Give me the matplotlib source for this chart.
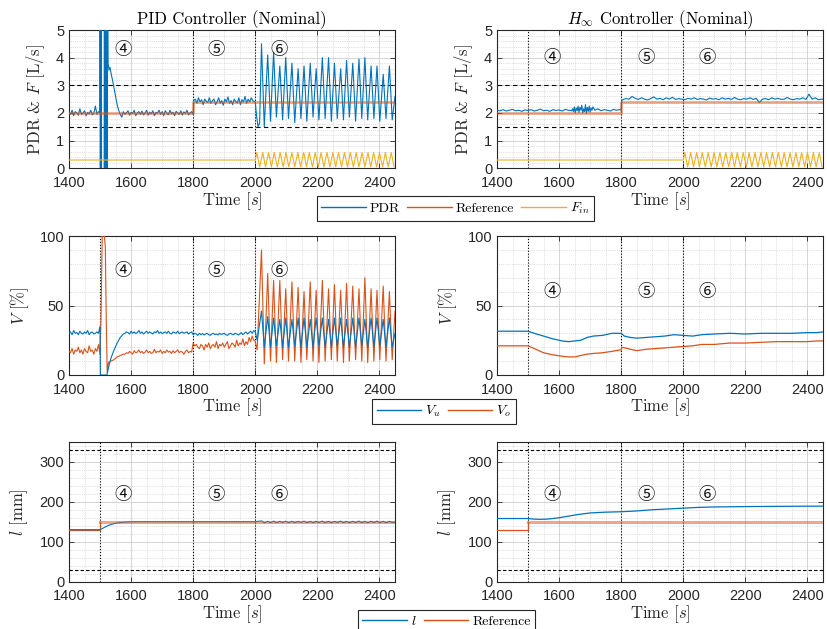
import numpy as np
import matplotlib
matplotlib.use('Agg')
import matplotlib.pyplot as plt
from matplotlib.lines import Line2D
from matplotlib.ticker import MultipleLocator
from matplotlib.font_manager import FontProperties

plt.rcParams['font.family'] = ['Liberation Sans', 'DejaVu Sans']
plt.rcParams['mathtext.fontset'] = 'cm'
plt.rcParams['axes.unicode_minus'] = False

SERIF = ['cmr10', 'DejaVu Serif']
CIRC = ['Noto Sans CJK JP', 'DejaVu Sans']
BLUE = '#0072BD'
ORANGE = '#D95319'
YELLOW = '#EDB120'
DARK = '#262626'

# ---------------- data ----------------
phase_lines = [1500, 1800, 2000]
phase_labels = ['④', '⑤', '⑥']
phase_label_t_pid = [1575, 1875, 2077]
phase_label_t_hinf = [1579, 1879, 2077]

# common oscillation instants for PID (s)
osc_t_pk = [2020, 2040, 2059, 2079, 2098, 2118, 2138, 2157, 2177, 2196, 2216,
            2236, 2255, 2275, 2294, 2314, 2334, 2353, 2373, 2392, 2412, 2432]
osc_t_tr = [2029, 2049, 2068, 2088, 2107, 2127, 2147, 2166, 2186, 2205, 2225,
            2245, 2264, 2284, 2303, 2323, 2343, 2362, 2382, 2401, 2421, 2441]

# PID PDR
pid_pdr_a = [2.0, 1.95, 2.1, 1.9, 2.05, 2.0, 1.92, 2.15, 1.95, 2.0, 2.08, 1.9, 2.02,
             1.97, 2.1, 1.93, 2.0, 2.25, 1.95, 2.05, 2.0]
pid_pdr_spike_t = [1500, 1501, 1502, 1503, 1504, 1505, 1513, 1514, 1515, 1516, 1517,
                   1518, 1519, 1520, 1521, 1522, 1523, 1524]
pid_pdr_spike_v = [8, -3, 8, -3, 8, -3, -3, 8, -3, 8, -3, 8, -3, 8, -3, 8, -3, 8]
pid_pdr_decay_t = [1526, 1529, 1532, 1536, 1540, 1545, 1550, 1555, 1560, 1565, 1570]
pid_pdr_decay_v = [3.8, 3.55, 3.65, 3.4, 3.2, 2.9, 2.6, 2.3, 2.1, 1.95, 1.85]
pid_pdr_b = [2.05, 1.95, 2.0, 2.08, 1.92, 2.02, 1.98, 2.1, 1.9, 2.0,
             2.05, 1.95, 2.07, 1.93, 2.0, 2.1, 1.92, 2.03, 1.97, 2.08,
             1.9, 2.02, 2.0, 2.1, 1.95, 2.05, 1.9, 2.08, 2.0, 1.93,
             2.1, 1.97, 2.03, 1.9, 2.06, 2.0, 1.95, 2.08, 1.92, 2.04,
             1.98, 2.1, 1.93, 2.0, 2.05, 1.95]
pid_pdr_c = [2.45, 2.5, 2.35, 2.55, 2.4, 2.48, 2.3, 2.5, 2.42, 2.38,
             2.55, 2.35, 2.45, 2.5, 2.3, 2.4, 2.55, 2.35, 2.45, 2.28,
             2.5, 2.4, 2.58, 2.35, 2.45, 2.3, 2.5, 2.42, 2.36, 2.55,
             2.3, 2.48, 2.4, 2.6, 2.35, 2.5, 2.4, 2.55, 2.45, 2.4]
pid_pdr_start_t = [2000, 2004, 2009, 2014]
pid_pdr_start_v = [2.4, 1.9, 1.5, 1.65]
pid_pdr_pk = [4.5, 4.1, 4.2, 3.7, 4.0, 3.8, 3.6, 3.7, 3.8, 3.6, 4.0, 4.0, 3.8, 3.6,
              3.9, 3.8, 3.95, 4.0, 3.7, 3.7, 3.4, 3.7]
pid_pdr_tr = [1.5, 1.7, 1.85, 1.75, 1.8, 1.65, 1.8, 1.7, 1.85, 1.75, 1.8, 1.7, 1.8,
              1.75, 1.85, 1.7, 1.8, 1.75, 1.8, 1.7, 1.8, 1.75]
pid_pdr_end = 2.6

# Reference flow
ref_flow_t = [1400, 1800, 1800, 2450]
ref_flow_v = [2.0, 2.0, 2.4, 2.4]

# Inflow F_in
fin_const_t = [1400, 2000]
fin_const_v = [0.3, 0.3]
fin_t_pk = [2005, 2024, 2043, 2061, 2080, 2099, 2118, 2137, 2156, 2174, 2193, 2212,
            2231, 2250, 2268, 2287, 2306, 2325, 2344, 2363, 2381, 2400, 2419, 2438]
fin_t_tr = [2014, 2033, 2052, 2071, 2090, 2108, 2127, 2146, 2165, 2184, 2203, 2221,
            2240, 2259, 2278, 2297, 2316, 2334, 2353, 2372, 2391, 2410, 2428, 2447]
fin_pk = [0.57] * 24
fin_tr = [0.05] * 24

# H-infinity PDR
hinf_pdr_a = [2.1, 2.08, 2.12, 2.07, 2.1, 2.13, 2.08, 2.1, 2.06, 2.11,
              2.09, 2.12, 2.07, 2.1, 2.14, 2.08, 2.1, 2.06, 2.12, 2.09,
              2.11, 2.07, 2.13, 2.1, 2.08]
hinf_pdr_b = [2.15, 2.05, 2.22, 2.0, 2.18, 2.08, 2.25, 2.02, 2.2, 2.1, 2.28, 2.0,
              2.15, 2.05, 2.3, 1.98, 2.2, 2.06, 2.25, 2.03, 2.18, 2.1, 2.22]
hinf_pdr_c = [2.1, 2.15, 2.08, 2.12, 2.1, 2.07, 2.13, 2.1, 2.12]
hinf_pdr_step_t = [1800, 1802]
hinf_pdr_step_v = [2.1, 2.45]
hinf_pdr_d = [2.48, 2.52, 2.5, 2.6, 2.53, 2.49, 2.55, 2.5, 2.47, 2.52,
              2.58, 2.5, 2.53, 2.48, 2.55, 2.5, 2.57, 2.49, 2.52, 2.5,
              2.48, 2.53, 2.5, 2.55, 2.49, 2.52, 2.5, 2.47, 2.54, 2.5,
              2.52, 2.48, 2.55, 2.5, 2.53, 2.49, 2.56, 2.5, 2.48, 2.52,
              2.5, 2.55, 2.49, 2.53, 2.38, 2.5, 2.52, 2.48, 2.55, 2.5,
              2.53, 2.49, 2.5, 2.56, 2.5, 2.48, 2.52, 2.5, 2.55, 2.49,
              2.68, 2.5, 2.55, 2.48, 2.5]
hinf_pdr_end = 2.5

# PID valves
pid_vu_a = [30, 31, 29, 32, 30, 30.5, 29, 31.5, 30, 29.5, 31, 30, 32, 29, 30.5, 31,
            29.5, 30, 31, 30]
pid_vu_drop_t = [1500, 1501, 1522, 1528, 1535, 1545, 1555, 1565, 1575]
pid_vu_drop_v = [35, 0, 0, 6, 12, 18, 23, 27, 29.5]
pid_vu_b = [30, 31, 30.5, 29.5, 31.5, 30, 31, 29.8, 30.5, 32,
            30, 31, 29.5, 30.5, 31.5, 30, 31, 30.2, 29.5, 31,
            30.5, 32, 30, 31, 29.8, 30.5, 31, 30, 31.5, 30,
            29.5, 31, 30.5, 30, 31.5, 29.8, 30.5, 31, 30, 30.5,
            31, 29.5, 30.5, 31]
pid_vu_c = [29, 30, 29.5, 28.5, 30, 29, 29.8, 28.8, 29.5, 30,
            29, 28.5, 29.5, 30, 29, 29.5, 28.8, 30, 29.2, 29.5,
            30, 29, 28.5, 29.5, 30, 29.3, 29, 30, 29.5, 28.8,
            29.5, 30.5, 29, 30, 31, 29.5, 30.5, 31.5, 30, 32]
pid_vu_start_t = [2000, 2006]
pid_vu_start_v = [31, 25]
pid_vu_pk = [46, 42, 41, 40, 41, 40, 41, 41, 40, 41, 41, 40, 41, 41, 40, 41, 41, 40,
             41, 41, 40, 41]
pid_vu_tr = [20, 20, 21, 20, 20, 21, 20, 20, 20, 21, 20, 20, 21, 20, 20, 20, 21, 20,
             20, 21, 20, 20]
pid_vu_end = 30

pid_vo_a = [17, 16, 19, 15, 18, 17, 20, 16, 18, 15, 19, 17, 16, 21, 17, 18, 15, 19,
            17, 22]
pid_vo_sat_t = [1500, 1503, 1507, 1514, 1517, 1520, 1523, 1527, 1535, 1545, 1555,
                1565, 1575]
pid_vo_sat_v = [15, 40, 100, 100, 92, 40, 2, 9, 10, 11, 13, 14, 15]
pid_vo_b = [15, 16, 15.5, 17, 16, 15, 17.5, 16, 16.5, 18,
            16, 17, 15.5, 16.5, 18, 16, 17, 15.5, 16, 18.5,
            16, 17, 16.5, 18, 15.5, 17, 16, 18, 16.5, 17,
            15.5, 17.5, 16, 17, 18, 16, 17, 16.5, 15, 17,
            18, 16, 17, 16.5]
pid_vo_c = [23, 21, 22, 20, 19, 22, 21, 18, 22, 20,
            23, 19, 21, 22, 20, 24, 19, 22, 21, 23,
            20, 22, 24, 19, 21, 23, 22, 20, 25, 21,
            23, 22, 26, 21, 24, 22, 27, 24, 28, 25]
pid_vo_start_t = [2000, 2006]
pid_vo_start_v = [24, 18]
pid_vo_pk = [90, 73, 68, 68, 62, 67, 63, 60, 67, 61, 68, 62, 65, 61, 66, 64, 62, 70,
             62, 61, 64, 60]
pid_vo_tr = [8, 10, 9, 11, 10, 10, 9, 11, 10, 9, 10, 11, 10, 9, 10, 11, 10, 9, 10,
             11, 10, 11]
pid_vo_end = 46

# H-infinity valves
hinf_vu_t = [1400, 1500, 1520, 1550, 1580, 1610, 1630, 1650, 1670, 1690, 1710, 1740,
             1770, 1795, 1800, 1810, 1830, 1850, 1880, 1910, 1940, 1970, 2000, 2030,
             2060, 2100, 2150, 2200, 2250, 2300, 2350, 2400, 2430, 2450]
hinf_vu = [31.5, 31.5, 30, 28, 26, 24.5, 24, 24.5, 25, 27, 28, 28.5, 30, 30, 30, 28,
           27, 26.5, 27, 27.5, 28, 29, 28.5, 28, 29, 29.5, 30, 29.5, 30, 30, 30, 30.5,
           30.5, 31]
hinf_vo_t = [1400, 1500, 1520, 1550, 1580, 1610, 1630, 1650, 1670, 1690, 1710, 1740,
             1770, 1795, 1800, 1802, 1830, 1850, 1880, 1910, 1940, 1970, 2000, 2030,
             2060, 2100, 2150, 2200, 2250, 2300, 2350, 2400, 2430, 2450]
hinf_vo = [21, 21, 19, 16, 14.5, 13.5, 13, 13, 14, 15, 15.5, 16, 17, 18, 18, 20,
           18.5, 17.5, 18.5, 19, 19.5, 20, 20.5, 21, 22, 22, 23, 23, 23.5, 24, 24, 24,
           24.5, 24.5]

# Levels
ref_lvl_pre_t = [1400, 1500, 1500]
ref_lvl_pre_v = [130, 130, 150]
ref_lvl_post_t = [1500, 2450]
ref_lvl_post_v = [150, 150]

pid_l_t = [1400, 1500, 1505, 1515, 1525, 1535, 1545, 1555, 1570, 1590, 1620, 1640, 2000]
pid_l = [130, 130, 132, 136, 140, 143, 145, 147, 148.5, 149.5, 150, 150, 150]
pid_l_pk = [152, 151, 151.5, 151, 151.5, 151, 151, 151.5, 151, 151, 151.5, 151, 151,
            151.5, 151, 151, 151.5, 151, 151, 151.5, 151, 151]
pid_l_tr = [147, 147.5, 147.5, 148, 147.5, 147.5, 148, 147.5, 147.5, 148, 147.5, 147.5,
            148, 147.5, 147.5, 148, 147.5, 147.5, 148, 147.5, 147.5, 148]

hinf_l_t = [1400, 1450, 1500, 1520, 1540, 1560, 1580, 1600, 1630, 1660, 1700, 1750,
            1800, 1850, 1900, 1950, 2000, 2050, 2100, 2150, 2200, 2300, 2400, 2450]
hinf_l = [158, 158, 158, 156.5, 156, 156.5, 158, 160, 164, 168, 172, 174, 175, 177,
          180, 182, 184, 186, 187, 187.5, 188, 188.5, 189, 189]

flow_limits = [1.5, 3.0]
level_limits = [30, 330]


# ---------------- helpers ----------------
def zig(t_pk, v_pk, t_tr, v_tr):
    t, v = [], []
    for a, b, c, d in zip(t_pk, v_pk, t_tr, v_tr):
        t += [a, c]
        v += [b, d]
    return t, v


def cat(*parts):
    out = []
    for p in parts:
        out += list(p)
    return np.array(out, dtype=float)


zt, zv = zig(osc_t_pk, pid_pdr_pk, osc_t_tr, pid_pdr_tr)
pid_pdr_t_all = cat(np.arange(1400, 1501, 5), pid_pdr_spike_t,
                    pid_pdr_decay_t, np.arange(1575, 1801, 5), np.arange(1802, 2000, 5),
                    pid_pdr_start_t, zt, [2450])
pid_pdr_v_all = cat(pid_pdr_a, pid_pdr_spike_v, pid_pdr_decay_v, pid_pdr_b, pid_pdr_c,
                    pid_pdr_start_v, zv, [pid_pdr_end])

ft, fv = zig(fin_t_pk, fin_pk, fin_t_tr, fin_tr)
fin_t_all = cat(fin_const_t, ft)
fin_v_all = cat(fin_const_v, fv)

hinf_pdr_t_all = cat(np.arange(1400, 1641, 10), np.arange(1643, 1711, 3),
                     np.arange(1715, 1800, 10), hinf_pdr_step_t,
                     np.arange(1805, 2451, 10), [2450])
hinf_pdr_v_all = cat(hinf_pdr_a, hinf_pdr_b, hinf_pdr_c, hinf_pdr_step_v, hinf_pdr_d,
                     [hinf_pdr_end])

zt, zv = zig(osc_t_pk, pid_vu_pk, osc_t_tr, pid_vu_tr)
pid_vu_t_all = cat(np.arange(1400, 1500, 5), pid_vu_drop_t, np.arange(1580, 1800, 5),
                   np.arange(1800, 2000, 5), pid_vu_start_t, zt, [2450])
pid_vu_v_all = cat(pid_vu_a, pid_vu_drop_v, pid_vu_b, pid_vu_c, pid_vu_start_v, zv,
                   [pid_vu_end])
zt, zv = zig(osc_t_pk, pid_vo_pk, osc_t_tr, pid_vo_tr)
pid_vo_t_all = cat(np.arange(1400, 1500, 5), pid_vo_sat_t, np.arange(1580, 1800, 5),
                   np.arange(1800, 2000, 5), pid_vo_start_t, zt, [2450])
pid_vo_v_all = cat(pid_vo_a, pid_vo_sat_v, pid_vo_b, pid_vo_c, pid_vo_start_v, zv,
                   [pid_vo_end])

zt, zv = zig(osc_t_pk, pid_l_pk, osc_t_tr, pid_l_tr)
pid_l_t_all = cat(pid_l_t, zt, [2450])
pid_l_v_all = cat(pid_l, zv, [149])

# ---------------- figure ----------------
fig = plt.figure(figsize=(8.27, 6.29), dpi=100)
W = 326 / 827
XL = [69 / 827, 497 / 827]
rows = [(1 - 168.3 / 629, 138.3 / 629), (1 - 375 / 629, 139 / 629),
        (1 - 581.5 / 629, 139.5 / 629)]
ylabel_x = [-0.068, -0.117, -0.12]

axes = [[fig.add_axes([XL[c], rows[r][0], W, rows[r][1]]) for c in range(2)]
        for r in range(3)]


def style(ax, ylim, ymajor, yminor, ylabel, lx):
    ax.set_xlim(1400, 2450)
    ax.set_ylim(*ylim)
    ax.xaxis.set_major_locator(MultipleLocator(200))
    ax.xaxis.set_minor_locator(MultipleLocator(50))
    ax.yaxis.set_major_locator(MultipleLocator(ymajor))
    ax.yaxis.set_minor_locator(MultipleLocator(yminor))
    ax.grid(which='major', color='#cfcfcf', lw=0.6, ls='-')
    ax.grid(which='minor', color='#c4c4c4', lw=0.5, ls=':')
    ax.set_axisbelow(True)
    ax.tick_params(which='major', direction='in', length=3.5, width=0.6,
                   top=True, right=True, labelsize=10.5, colors=DARK)
    ax.tick_params(axis='x', which='major', pad=5.5)
    ax.tick_params(axis='y', which='major', pad=3.5)
    ax.tick_params(which='minor', length=0)
    for s in ax.spines.values():
        s.set_color(DARK)
        s.set_linewidth(0.8)
    ax.set_xlabel('Time [$s$]', fontfamily=SERIF, fontsize=12, color=DARK, labelpad=0)
    ax.set_ylabel(ylabel, fontfamily=SERIF, fontsize=12, color=DARK)
    ax.yaxis.set_label_coords(lx, 0.5)
    for x in phase_lines:
        ax.axvline(x, color='k', ls=':', lw=0.8, zorder=1.5)


def marks(ax, ts, yv):
    for t, lab in zip(ts, phase_labels):
        ax.text(t, yv, lab, fontfamily=CIRC, fontsize=12.5, ha='center', va='center',
                color='#111111')


# Row 1: flows
for c, ax in enumerate(axes[0]):
    style(ax, (0, 5), 1, 0.2, 'PDR & $F$ [L/s]', ylabel_x[0])
    for y in flow_limits:
        ax.axhline(y, color='k', ls='--', lw=0.8, dashes=(4, 3), zorder=1.6)
    if c == 0:
        ax.plot(pid_pdr_t_all, pid_pdr_v_all, color=BLUE, lw=0.8, zorder=3)
    else:
        ax.plot(hinf_pdr_t_all, hinf_pdr_v_all, color=BLUE, lw=0.8, zorder=3)
    ax.plot(ref_flow_t, ref_flow_v, color=ORANGE, lw=2.0, alpha=0.5, zorder=4)
    ax.plot(fin_t_all, fin_v_all, color=YELLOW, lw=0.8, zorder=3)
    if c == 0:
        marks(ax, phase_label_t_pid, 4.28)
    else:
        marks(ax, phase_label_t_hinf, 4.0)

axes[0][0].set_title('PID Controller (Nominal)', fontfamily=SERIF, fontsize=12, pad=4)
axes[0][1].set_title(r'$H_\infty$ Controller (Nominal)', fontfamily=SERIF, fontsize=12,
                     pad=4)

# Row 2: valves
for c, ax in enumerate(axes[1]):
    style(ax, (0, 100), 50, 10, '$V$ [%]', ylabel_x[1])
    if c == 0:
        ax.plot(pid_vo_t_all, pid_vo_v_all, color=ORANGE, lw=0.8, zorder=3)
        ax.plot(pid_vu_t_all, pid_vu_v_all, color=BLUE, lw=0.8, zorder=3)
        marks(ax, phase_label_t_pid, 75)
    else:
        ax.plot(hinf_vu_t, hinf_vu, color=BLUE, lw=0.9, zorder=3)
        ax.plot(hinf_vo_t, hinf_vo, color=ORANGE, lw=0.9, zorder=3)
        marks(ax, phase_label_t_hinf, 60)

# Row 3: level
for c, ax in enumerate(axes[2]):
    style(ax, (0, 350), 100, 20, '$l$ [mm]', ylabel_x[2])
    for y in level_limits:
        ax.axhline(y, color='k', ls='--', lw=0.8, dashes=(3, 2), zorder=1.6)
    ax.plot(ref_lvl_pre_t, ref_lvl_pre_v, color=ORANGE, lw=0.9, zorder=3)
    ax.plot(ref_lvl_post_t, ref_lvl_post_v, color=ORANGE, lw=2.2, alpha=0.5, zorder=4)
    if c == 0:
        ax.plot(pid_l_t_all, pid_l_v_all, color=BLUE, lw=0.8, zorder=3)
        marks(ax, phase_label_t_pid, 218)
    else:
        ax.plot(hinf_l_t, hinf_l, color=BLUE, lw=0.9, zorder=3)
        marks(ax, phase_label_t_hinf, 218)

# Legends
lp = FontProperties(family=SERIF, size=10)


def legend(handles, labels, x, y):
    leg = fig.legend(handles, labels, loc='upper center', bbox_to_anchor=(x, y),
                     bbox_transform=fig.transFigure, ncol=len(labels), frameon=True,
                     fancybox=False, edgecolor=DARK, framealpha=1, handlelength=3.2,
                     handletextpad=0.3, columnspacing=0.5, borderpad=0.35,
                     borderaxespad=0, prop=lp)
    leg.get_frame().set_linewidth(0.8)
    return leg


legend([Line2D([], [], color=BLUE, lw=1), Line2D([], [], color=ORANGE, lw=1),
        Line2D([], [], color=YELLOW, lw=1)], ['PDR', 'Reference', '$F_{in}$'],
       455.5 / 827, 1 - 196 / 629)
legend([Line2D([], [], color=BLUE, lw=1), Line2D([], [], color=ORANGE, lw=1)],
       ['$V_u$', '$V_o$'], 444 / 827, 1 - 399 / 629)
legend([Line2D([], [], color=BLUE, lw=1), Line2D([], [], color=ORANGE, lw=1)],
       ['$l$', 'Reference'], 446.5 / 827, 1 - 610 / 629)

fig.savefig('out.png', dpi=100)
